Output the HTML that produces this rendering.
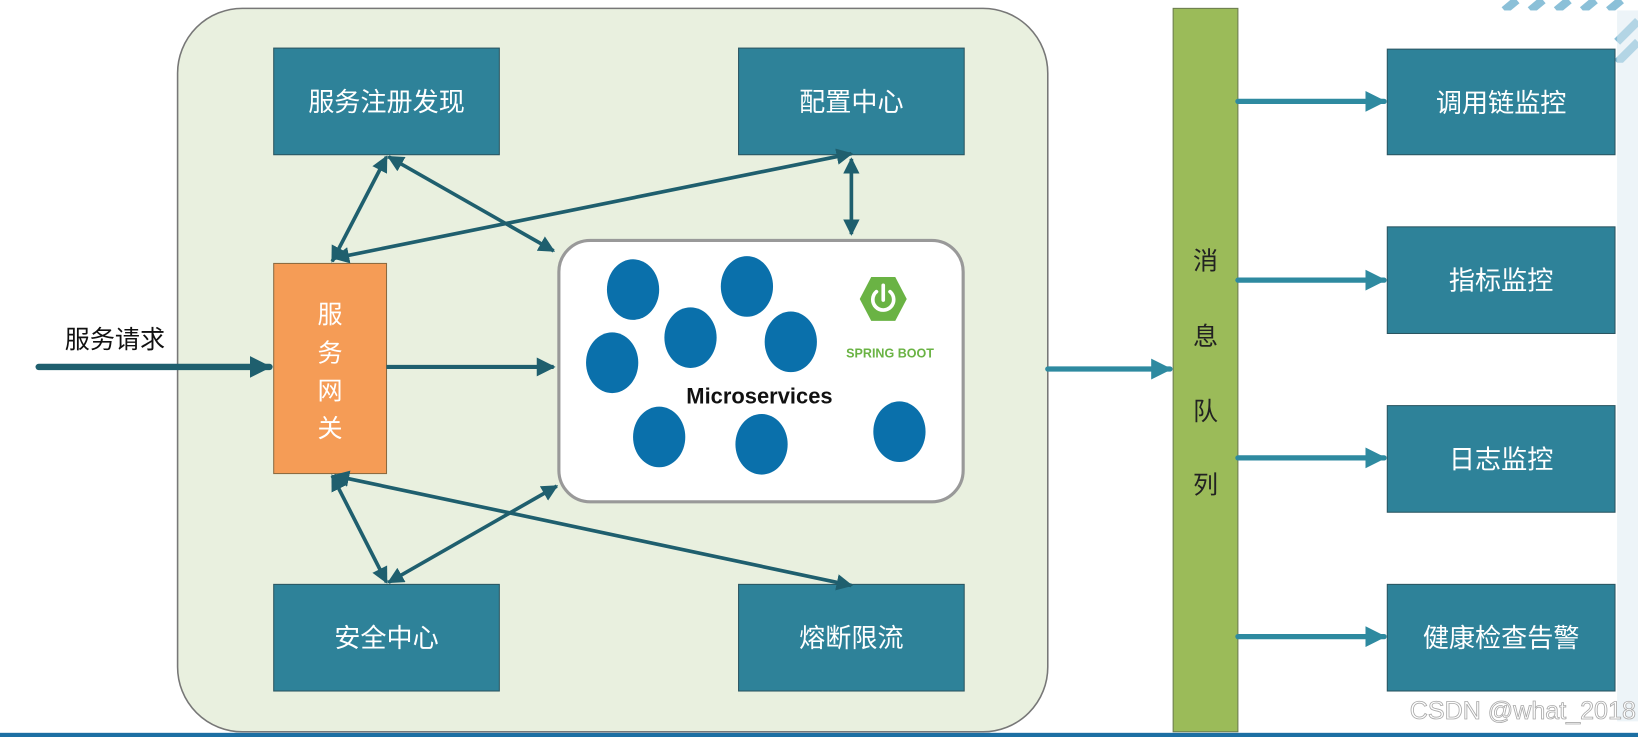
<!DOCTYPE html>
<html><head><meta charset="utf-8"><style>
html,body{margin:0;padding:0;background:#fff;}
svg{display:block;}
text{font-family:"Liberation Sans","Noto Sans CJK SC",sans-serif;}
</style></head><body>
<svg width="1638" height="737" viewBox="0 0 1568 705" preserveAspectRatio="none" xmlns="http://www.w3.org/2000/svg">
<defs>
<marker id="a" viewBox="0 0 10 10" refX="9" refY="5" markerWidth="4.5" markerHeight="4.5" orient="auto-start-reverse"><path d="M0,0L10,5L0,10z" fill="#1f5f6e"/></marker>
<marker id="b" viewBox="0 0 10 10" refX="9" refY="5" markerWidth="4" markerHeight="4" orient="auto"><path d="M0,0L10,5L0,10z" fill="#2e8aa0"/></marker>
<marker id="c" viewBox="0 0 10 10" refX="9" refY="5" markerWidth="3.5" markerHeight="3.5" orient="auto"><path d="M0,0L10,5L0,10z" fill="#1f5f6e"/></marker>
<clipPath id="tr"><rect x="1280" y="0" width="288" height="60"/></clipPath>
</defs>
<!-- top right decoration -->
<g clip-path="url(#tr)" opacity="0.7">
<g stroke="#5aa6c8" stroke-width="8">
<line x1="1440" y1="10" x2="1452" y2="0"/><line x1="1465" y1="10" x2="1477" y2="0"/><line x1="1490" y1="10" x2="1502" y2="0"/><line x1="1515" y1="10" x2="1527" y2="0"/><line x1="1540" y1="10" x2="1552" y2="0"/>
<line x1="1548" y1="40" x2="1568" y2="20"/><line x1="1548" y1="60" x2="1568" y2="40"/>
</g></g>
<rect x="1548" y="10" width="20" height="680" fill="#dbe9f2" opacity="0.5"/>
<rect x="1180" y="10" width="368" height="4" fill="#fff"/>
<!-- bottom line -->
<rect x="0" y="701" width="1568" height="4" fill="#1c6fa3"/>
<!-- main container -->
<rect x="170" y="8" width="833" height="692" rx="62" fill="#e9f0df" stroke="#777" stroke-width="1.5"/>
<!-- boxes -->
<g fill="#2e8299" stroke="#2a5561" stroke-width="1">
<rect x="262" y="46" width="216" height="102"/>
<rect x="707" y="46" width="216" height="102"/>
<rect x="262" y="559" width="216" height="102"/>
<rect x="707" y="559" width="216" height="102"/>
<rect x="1328" y="47" width="218" height="101"/>
<rect x="1328" y="217" width="218" height="102"/>
<rect x="1328" y="388" width="218" height="102"/>
<rect x="1328" y="559" width="218" height="102"/>
</g>
<g fill="#fff" font-size="25" text-anchor="middle">
<text x="370" y="106">服务注册发现</text>
<text x="815" y="106">配置中心</text>
<text x="370" y="619">安全中心</text>
<text x="815" y="619">熔断限流</text>
<text x="1437" y="107">调用链监控</text>
<text x="1437" y="277">指标监控</text>
<text x="1437" y="448">日志监控</text>
<text x="1437" y="619">健康检查告警</text>
</g>
<!-- gateway -->
<rect x="262" y="252" width="108" height="201" fill="#f59c56" stroke="#8a6a40" stroke-width="1"/>
<g fill="#fff" font-size="24" text-anchor="middle">
<text x="316" y="309">服</text><text x="316" y="346">务</text><text x="316" y="382">网</text><text x="316" y="418">关</text>
</g>
<!-- MQ -->
<rect x="1123" y="8" width="62" height="692" fill="#9bbb59" stroke="#6b7b50" stroke-width="1"/>
<g fill="#222" font-size="24" text-anchor="middle">
<text x="1154" y="258">消</text><text x="1154" y="330">息</text><text x="1154" y="402">队</text><text x="1154" y="472">列</text>
</g>
<!-- microservices -->
<rect x="535" y="230" width="387" height="250" rx="30" fill="#fff" stroke="#999" stroke-width="3"/>
<g fill="#0a70ab">
<ellipse cx="606" cy="277" rx="25" ry="29"/><ellipse cx="715" cy="274" rx="25" ry="29"/>
<ellipse cx="661" cy="323" rx="25" ry="29"/><ellipse cx="757" cy="327" rx="25" ry="29"/>
<ellipse cx="586" cy="347" rx="25" ry="29"/><ellipse cx="631" cy="418" rx="25" ry="29"/>
<ellipse cx="729" cy="425" rx="25" ry="29"/><ellipse cx="861" cy="413" rx="25" ry="29"/>
</g>
<text x="727" y="386" font-size="21" font-weight="bold" fill="#111" text-anchor="middle">Microservices</text>
<polygon points="834,265 857,265 868,286 857,307 834,307 823,286" fill="#6ab344"/>
<path d="M839,279 A10,10 0 1 0 852,279" fill="none" stroke="#fff" stroke-width="3.5" stroke-linecap="round"/>
<line x1="845.5" y1="273" x2="845.5" y2="287" stroke="#fff" stroke-width="3.5" stroke-linecap="round"/>
<text x="852" y="342" font-size="12" font-weight="bold" fill="#6ab344" text-anchor="middle">SPRING BOOT</text>
<!-- request -->
<text x="62" y="333" font-size="24" fill="#111">服务请求</text>
<line x1="37" y1="351" x2="258" y2="351" stroke="#1f5f6e" stroke-width="6" stroke-linecap="round" marker-end="url(#c)"/>
<line x1="370" y1="351" x2="530" y2="351" stroke="#1f5f6e" stroke-width="4" marker-end="url(#a)"/>
<!-- double arrows -->
<g stroke="#1f5f6e" stroke-width="3.5" fill="none" marker-start="url(#a)" marker-end="url(#a)">
<line x1="318" y1="250" x2="370" y2="150"/>
<line x1="372" y1="150" x2="530" y2="240"/>
<line x1="320" y1="247" x2="815" y2="147"/>
<line x1="815" y1="152" x2="815" y2="224"/>
<line x1="318" y1="455" x2="370" y2="557"/>
<line x1="372" y1="557" x2="533" y2="465"/>
<line x1="320" y1="455" x2="815" y2="560"/>
</g>
<!-- right arrows -->
<g stroke="#2e8aa0" stroke-width="5" stroke-linecap="round" marker-end="url(#b)">
<line x1="1003" y1="353" x2="1120" y2="353"/>
<line x1="1185" y1="97" x2="1325" y2="97"/>
<line x1="1185" y1="268" x2="1325" y2="268"/>
<line x1="1185" y1="438" x2="1325" y2="438"/>
<line x1="1185" y1="609" x2="1325" y2="609"/>
</g>
<text x="1566" y="688" font-size="24" fill="#fff" stroke="#aaa" stroke-width="0.8" text-anchor="end">CSDN @what_2018</text>
</svg>
</body></html>
